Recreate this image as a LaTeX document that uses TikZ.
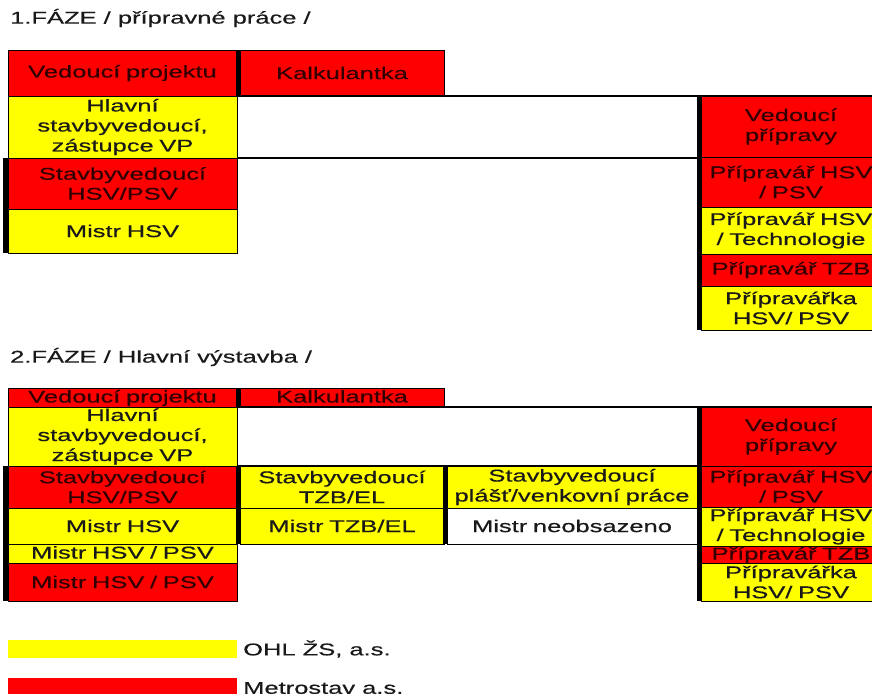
\documentclass[tikz,border=0pt]{standalone}
\usepackage{fontspec}
\setmainfont{Liberation Sans}[FakeStretch=1.5, FakeBold=0.5]
\usepackage{xcolor}
\usepackage{tikz}
\usetikzlibrary{positioning}

\definecolor{cellred}{RGB}{255,0,0}
\definecolor{cellyellow}{RGB}{255,255,0}
\definecolor{inkred}{RGB}{50,0,0}
\definecolor{ink}{RGB}{25,25,25}

\begin{document}
\begin{tikzpicture}[
    x=1pt, y=-1pt,
    node distance=0pt,
    cell/.style={
        draw=black,
        line width=0.8pt,
        inner sep=0pt,
        outer sep=0pt,
        align=center,
        text=ink,
        font=\fontsize{17}{20}\selectfont
    },
    redcell/.style={cell, fill=cellred, text=inkred},
    yellowcell/.style={cell, fill=cellyellow},
    whitecell/.style={cell, fill=white},
    slim/.style={text height=10pt, text depth=0pt},
    col1/.style={text width=229pt},
    col2/.style={text width=204pt},
    col3/.style={text width=250pt},
    colr/.style={text width=180pt},
    bar/.style={line width=4.5pt, black},
    rule/.style={line width=2.5pt, black},
    title/.style={anchor=west, inner sep=0pt, text=ink,
        font=\fontsize{17}{20}\selectfont},
    legend/.style={inner sep=0pt, outer sep=0pt, minimum width=229pt}
]
\useasboundingbox (0,0) rectangle (872,693);

% 1. faze
\node[title] (t1) at (10,18) {1.FÁZE / přípravné práce /};

\node[redcell, col1, minimum height=46pt, anchor=north west] (vp1) at (8,50) {Vedoucí projektu};
\node[redcell, col2, minimum height=46pt, right=3pt of vp1] (kalk1) {Kalkulantka};
\node[yellowcell, col1, minimum height=62pt, below=of vp1] (hs1) {Hlavní\\stavbyvedoucí,\\zástupce VP};
\node[redcell, col1, minimum height=51pt, below=of hs1] (sv1) {Stavbyvedoucí\\HSV/PSV};
\node[yellowcell, col1, minimum height=44pt, below=of sv1] (mi1) {Mistr HSV};

\node[redcell, colr, minimum height=61pt, anchor=north west] (vpr1) at (701,96) {Vedoucí\\přípravy};
\node[redcell, colr, minimum height=50pt, below=of vpr1] (pr1a) {Přípravář HSV\\/ PSV};
\node[yellowcell, colr, minimum height=47pt, below=of pr1a] (pr1b) {Přípravář HSV\\/ Technologie};
\node[redcell, colr, minimum height=32pt, below=of pr1b] (pr1c) {Přípravář TZB};
\node[yellowcell, colr, minimum height=44pt, below=of pr1c] (pr1d) {Přípravářka\\HSV/ PSV};

\draw[rule] (vp1.south east) -- (vp1.south east -| vpr1.north east);
\draw[rule] (hs1.south east) -- (hs1.south east -| vpr1.west);
\draw[bar] ([xshift=1.5pt]vp1.north east) -- ([xshift=1.5pt]vp1.south east);
\draw[bar] ([xshift=-2.5pt]sv1.north west) -- ([xshift=-2.5pt]mi1.south west);
\draw[bar] ([xshift=-2pt]vpr1.north west) -- ([xshift=-2pt]pr1d.south west);

% 2. faze
\node[title] (t2) at (10,357) {2.FÁZE / Hlavní výstavba /};

\node[redcell, col1, slim, minimum height=19pt, anchor=north west] (vp2) at (8,388) {Vedoucí projektu};
\node[redcell, col2, slim, minimum height=19pt, right=3pt of vp2] (kalk2) {Kalkulantka};
\node[yellowcell, col1, minimum height=59pt, below=of vp2] (hs2) {Hlavní\\stavbyvedoucí,\\zástupce VP};
\node[redcell, col1, minimum height=42pt, below=of hs2] (sv2) {Stavbyvedoucí\\HSV/PSV};
\node[yellowcell, col1, minimum height=36pt, below=of sv2] (mi2) {Mistr HSV};
\node[yellowcell, col1, slim, minimum height=19pt, below=of mi2] (mp2a) {Mistr HSV / PSV};
\node[redcell, col1, minimum height=38pt, below=of mp2a] (mp2b) {Mistr HSV / PSV};

\node[yellowcell, col2, minimum height=42pt, right=3pt of sv2] (sz2) {Stavbyvedoucí\\TZB/EL};
\node[yellowcell, col2, minimum height=36pt, below=of sz2] (mz2) {Mistr TZB/EL};
\node[yellowcell, col3, minimum height=42pt, right=3pt of sz2] (sp2) {Stavbyvedoucí\\plášť/venkovní práce};
\node[whitecell, col3, minimum height=36pt, below=of sp2] (mn2) {Mistr neobsazeno};

\node[redcell, colr, minimum height=59pt, anchor=north west] (vpr2) at (701,407) {Vedoucí\\přípravy};
\node[redcell, colr, minimum height=41pt, below=of vpr2] (pr2a) {Přípravář HSV\\/ PSV};
\node[yellowcell, colr, minimum height=39pt, below=of pr2a] (pr2b) {Přípravář HSV\\/ Technologie};
\node[redcell, colr, slim, minimum height=17pt, below=of pr2b] (pr2c) {Přípravář TZB};
\node[yellowcell, colr, minimum height=38pt, below=of pr2c] (pr2d) {Přípravářka\\HSV/ PSV};

\draw[rule] (vp2.south east) -- (vp2.south east -| vpr2.north east);
\draw[rule] (hs2.south east) -- (hs2.south east -| vpr2.west);
\draw[bar] ([xshift=1.5pt]vp2.north east) -- ([xshift=1.5pt]vp2.south east);
\draw[bar] ([xshift=1.5pt]sv2.north east) -- ([xshift=1.5pt]mi2.south east);
\draw[bar] ([xshift=1.5pt]sz2.north east) -- ([xshift=1.5pt]mz2.south east);
\draw[bar] ([xshift=-2.5pt]sv2.north west) -- ([xshift=-2.5pt]mp2b.south west);
\draw[bar] ([xshift=-2pt]vpr2.north west) -- ([xshift=-2pt]pr2d.south west);

% legenda
\node[legend, fill=cellyellow, minimum height=18pt, anchor=north west] (legy) at (8,640) {};
\node[title, right=6pt of legy] (ohl) {OHL ŽS, a.s.};
\node[legend, fill=cellred, minimum height=20pt, anchor=north west] (legr) at (8,678) {};
\node[title, right=6pt of legr] (metro) {Metrostav a.s.};

\end{tikzpicture}
\end{document}
